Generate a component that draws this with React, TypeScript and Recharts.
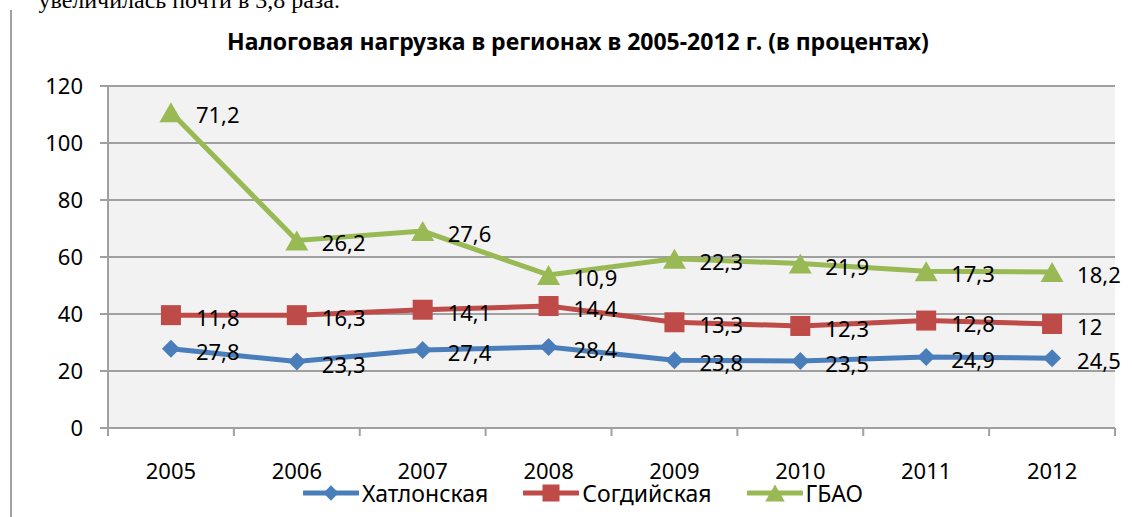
import React from 'react';
import { LineChart, Line, XAxis, YAxis, CartesianGrid, Legend, LabelList } from 'recharts';

const years = ['2005', '2006', '2007', '2008', '2009', '2010', '2011', '2012'];
const khatlon = [27.8, 23.3, 27.4, 28.4, 23.8, 23.5, 24.9, 24.5];
const sogd = [11.8, 16.3, 14.1, 14.4, 13.3, 12.3, 12.8, 12];
const gbao = [71.2, 26.2, 27.6, 10.9, 22.3, 21.9, 17.3, 18.2];
const yTicks = [0, 20, 40, 60, 80, 100, 120];
const xTicks = [0, 0.5, 1, 1.5, 2, 2.5, 3, 3.5, 4, 4.5, 5, 5.5, 6, 6.5, 7, 7.5, 8];

const series = [
  { key: 'k', name: 'Хатлонская', color: '#4A7EBB', shape: 'diamond', raw: khatlon },
  { key: 's', name: 'Согдийская', color: '#BE4B48', shape: 'square', raw: sogd },
  { key: 'g', name: 'ГБАО', color: '#98B954', shape: 'triangle', raw: gbao },
];

const rows = years.map((y, i) => ({
  pos: i + 0.5,
  year: y,
  k: khatlon[i],
  s: +(khatlon[i] + sogd[i]).toFixed(2),
  g: +(khatlon[i] + sogd[i] + gbao[i]).toFixed(2),
}));

const FONT = '"Noto Sans", "Open Sans", sans-serif';
const GRID = '#A0A0A0';

function Marker({ shape, cx, cy, color, scale = 1 }: any) {
  if (cx == null || cy == null) return null;
  if (shape === 'diamond') {
    const r = 9 * scale;
    return <polygon points={`${cx},${cy - r} ${cx + r},${cy} ${cx},${cy + r} ${cx - r},${cy}`} fill={color} />;
  }
  if (shape === 'square') {
    const r = 10 * scale;
    return <rect x={cx - r} y={cy - r} width={2 * r} height={2 * r} fill={color} />;
  }
  const w = 11.5 * scale;
  const h = 10 * scale;
  return <polygon points={`${cx},${cy - h} ${cx + w},${cy + h} ${cx - w},${cy + h}`} fill={color} />;
}

const fmt = (v: number) => String(v).replace('.', ',');

const makeLabel = (raw: number[]) => (props: any) => {
  const { x, y, index } = props;
  if (x == null || y == null) return null;
  return (
    <text x={x + 25} y={y + 2} textAnchor="start" dominantBaseline="central" fontSize={22} fontFamily={FONT} fill="#000">
      {fmt(raw[index])}
    </text>
  );
};

const XTick = (props: any) => {
  const { x, y, payload } = props;
  const v = payload.value;
  if (Number.isInteger(v)) {
    return <line x1={x} x2={x} y1={y} y2={y + 8} stroke={GRID} strokeWidth={2} />;
  }
  return (
    <text x={x} y={y + 42} textAnchor="middle" dominantBaseline="central" fontSize={22} fontFamily={FONT} fill="#000">
      {years[Math.floor(v)]}
    </text>
  );
};

const LegendContent = () => (
  <div style={{ display: 'flex', alignItems: 'center', fontFamily: FONT, fontSize: 23, color: '#000' }}>
    {series.map((s) => (
      <div key={s.key} style={{ display: 'flex', alignItems: 'center', marginRight: 35 }}>
        <svg width={56} height={24} style={{ display: 'block' }}>
          <line x1={1} x2={55} y1={12} y2={12} stroke={s.color} strokeWidth={5} strokeLinecap="round" />
          <Marker shape={s.shape} cx={28} cy={12} color={s.color} scale={0.85} />
        </svg>
        <span style={{ marginLeft: 3, lineHeight: '24px' }}>{s.name}</span>
      </div>
    ))}
  </div>
);

export default function App() {
  return (
    <div style={{ position: 'absolute', left: 0, top: 0, width: 1132, height: 517, background: '#fff', overflow: 'hidden' }}>
      <div
        style={{
          position: 'absolute',
          left: -300,
          width: 640,
          top: -12,
          textAlign: 'right',
          whiteSpace: 'nowrap',
          fontFamily: '"Liberation Serif", serif',
          fontSize: 24,
          lineHeight: '24px',
          color: '#000',
        }}
      >
        увеличилась почти в 3,8 раза.
      </div>
      <div style={{ position: 'absolute', left: 10, top: 10, width: 2, height: 507, background: '#A0A0A0' }} />
      <div
        style={{
          position: 'absolute',
          left: 0,
          width: 1156,
          top: 26,
          textAlign: 'center',
          fontFamily: FONT,
          fontWeight: 700,
          fontSize: 23,
          lineHeight: '30px',
          color: '#000',
        }}
      >
        Налоговая нагрузка в регионах в 2005-2012 г. (в процентах)
      </div>
      <LineChart width={1132} height={517} data={rows} margin={{ top: 86, right: 17, bottom: 0, left: 0 }}>
        <CartesianGrid horizontal vertical={false} fill="#F2F2F2" stroke={GRID} strokeWidth={2} />
        <XAxis
          dataKey="pos"
          type="number"
          domain={[0, 8]}
          ticks={xTicks}
          interval={0}
          height={89}
          tickSize={0}
          tickMargin={0}
          tickLine={false}
          axisLine={{ stroke: GRID, strokeWidth: 2 }}
          tick={<XTick />}
        />
        <YAxis
          domain={[0, 120]}
          ticks={yTicks}
          interval={0}
          width={108}
          tickSize={8}
          tickMargin={17}
          tickLine={{ stroke: GRID, strokeWidth: 2 }}
          axisLine={{ stroke: GRID, strokeWidth: 2 }}
          tick={{ fontSize: 22, fontFamily: FONT, fill: '#000' }}
        />
        <Legend
          layout="horizontal"
          verticalAlign="middle"
          align="center"
          wrapperStyle={{ top: 481, left: 303, width: 800, height: 26 }}
          content={<LegendContent />}
        />
        {series.map((s) => (
          <Line
            key={s.key}
            dataKey={s.key}
            name={s.name}
            type="linear"
            stroke={s.color}
            strokeWidth={5}
            isAnimationActive={false}
            activeDot={false}
            dot={(p: any) => <Marker key={`${s.key}-${p.index}`} shape={s.shape} cx={p.cx} cy={p.cy} color={s.color} />}
          >
            <LabelList dataKey={s.key} content={makeLabel(s.raw)} />
          </Line>
        ))}
      </LineChart>
    </div>
  );
}
